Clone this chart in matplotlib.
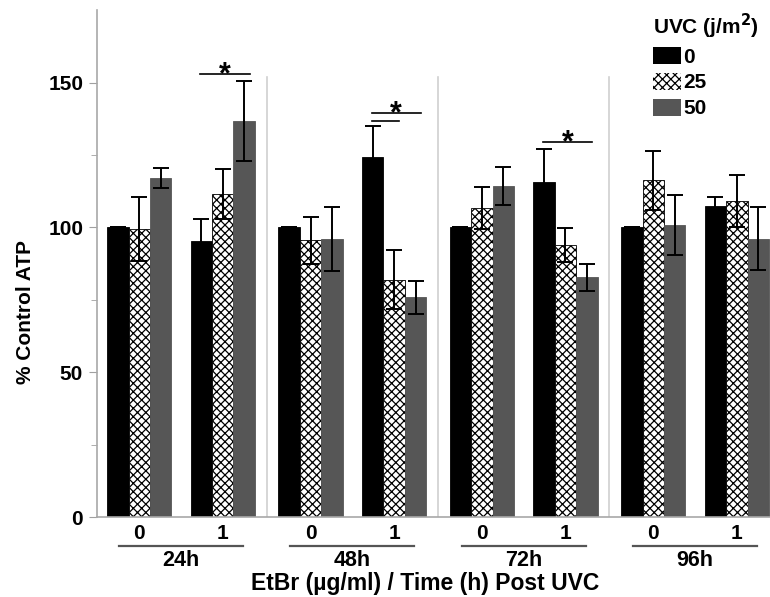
import numpy as np
import matplotlib
matplotlib.use("Agg")
import matplotlib.pyplot as plt
import matplotlib.transforms as mtransforms
from matplotlib.patches import Patch

plt.rcParams['font.family'] = ['Liberation Sans', 'DejaVu Sans']
plt.rcParams['font.weight'] = 'bold'
plt.rcParams['hatch.linewidth'] = 0.9

# data
times = ['24h', '48h', '72h', '96h']
etbr = ['0', '1']
uvc_doses = ['0', '25', '50']

# order: 24h-0, 24h-1, 48h-0, 48h-1, 72h-0, 72h-1, 96h-0, 96h-1
uvc0 = [100, 95.4, 100, 124.3, 100, 115.6, 100, 107.3]
uvc0_err = [0, 7.6, 0, 10.6, 0, 11.3, 0, 3.2]
uvc25 = [99.5, 111.4, 95.5, 82.0, 106.7, 94.0, 116.2, 109.0]
uvc25_err = [11.0, 8.6, 8.0, 10.3, 7.3, 5.8, 10.1, 9.0]
uvc50 = [117.0, 136.8, 96.1, 75.9, 114.4, 82.7, 100.8, 96.1]
uvc50_err = [3.5, 13.8, 11.0, 5.7, 6.6, 4.5, 10.5, 10.8]

# significance: (subgroup index, from series, to series, height)
sig_lines = [(1, 0, 2, 153.0), (3, 0, 1, 136.6), (3, 0, 2, 139.5), (5, 0, 2, 129.4)]
sig_stars = [(1, 153.0), (3, 139.5), (5, 129.4)]

fig = plt.figure(figsize=(7.7, 5.97), dpi=100)
ax = fig.add_axes([0.126, 0.134, 0.874, 0.849])

w = 1.0
centers = np.array([t * 8 + e * 3.9 for t in range(len(times)) for e in range(len(etbr))])

ekw = dict(ecolor='black', elinewidth=1.4, capsize=6, capthick=1.4)
ax.bar(centers - w, uvc0, w, yerr=uvc0_err, color='black', edgecolor='black',
       linewidth=0.6, error_kw=ekw, label=uvc_doses[0])
ax.bar(centers, uvc25, w, yerr=uvc25_err, color='white', edgecolor='black',
       hatch='xxxx', linewidth=0.6, error_kw=ekw, label=uvc_doses[1])
ax.bar(centers + w, uvc50, w, yerr=uvc50_err, color='#565656', edgecolor='#565656',
       linewidth=0.6, error_kw=ekw, label=uvc_doses[2])

# separators between time points
for t in range(1, len(times)):
    ax.plot([t * 8 - 2.05] * 2, [0, 152], color='#d0d0d0', lw=1.2, zorder=0)

# significance bars
for g, a, b, h in sig_lines:
    ax.plot([centers[g] + (a - 1) * w - 0.05, centers[g] + (b - 1) * w + 0.25], [h, h],
            color='black', lw=1.2)
for g, h in sig_stars:
    ax.text(centers[g] + 0.1, h - 3.2, '*', ha='center', va='baseline', fontsize=22,
            fontweight='bold')

ax.set_xlim(-1.97, 29.45)
ax.set_ylim(0, 175)
ax.set_yticks([0, 50, 100, 150])
ax.set_yticks([25, 75, 125], minor=True)
ax.tick_params(axis='y', which='major', length=6, color='#a0a0a0', labelsize=15, pad=4)
ax.tick_params(axis='y', which='minor', length=4, color='#a0a0a0')
for lab in ax.get_yticklabels():
    lab.set_fontweight('bold')
ax.set_xticks(centers)
ax.set_xticklabels(etbr * len(times), fontsize=15, fontweight='bold')
ax.tick_params(axis='x', length=0, pad=5)

for s in ['top', 'right']:
    ax.spines[s].set_visible(False)
for s in ['left', 'bottom']:
    ax.spines[s].set_color('#a8a8a8')
    ax.spines[s].set_linewidth(1.2)

# group underline and labels
trans = mtransforms.blended_transform_factory(ax.transData, ax.transAxes)
for t, name in enumerate(times):
    mid = (centers[2 * t] + centers[2 * t + 1]) / 2
    ax.plot([mid - 2.9, mid + 2.9], [-0.057, -0.057], transform=trans, color='#555555',
            lw=1.6, clip_on=False)
    ax.text(mid, -0.085, name, transform=trans, ha='center', va='center', fontsize=15.5,
            fontweight='bold')

ax.set_ylabel('% Control ATP', fontsize=15, fontweight='bold')
ax.yaxis.set_label_coords(-0.107, 0.404)
ax.yaxis.label.set_va('center')
ax.set_xlabel('EtBr (µg/ml) / Time (h) Post UVC', fontsize=16.5, fontweight='bold')
ax.xaxis.set_label_coords(0.487, -0.132)
ax.xaxis.label.set_va('center')

handles = [Patch(facecolor='black', edgecolor='black', linewidth=0),
           Patch(facecolor='white', edgecolor='black', hatch='xxxx', linewidth=0),
           Patch(facecolor='#565656', edgecolor='#565656', linewidth=0)]
leg = ax.legend(handles, uvc_doses, title=r'UVC (j/m$^\mathbf{2}$)', loc='upper left',
                bbox_to_anchor=(643 / 770, 1 - 1 / 597), bbox_transform=fig.transFigure,
                frameon=False, prop={'size': 15, 'weight': 'bold'}, borderpad=0,
                handlelength=1.3, handleheight=0.87, handletextpad=0.15, labelspacing=0.3)
leg.get_title().set_fontweight('bold')
leg.get_title().set_fontsize(15)
leg._legend_box.align = 'left'

fig.savefig('out.png', dpi=100)
